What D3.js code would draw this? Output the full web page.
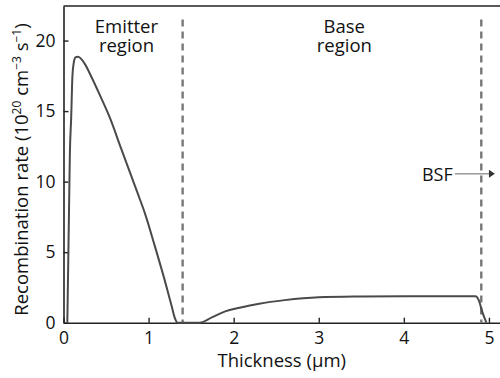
<!DOCTYPE html>
<html lang="en">
<head>
  <meta charset="UTF-8">
  <title>Recombination rate</title>
  <script src="https://d3js.org/d3.v7.min.js"></script>
  <style>
    body {
      margin: 0;
      background: #fff;
      font-family: "Open Sans", sans-serif;
    }
    text {
      fill: #111;
    }
    .tick-label {
      font-size: 17.5px;
    }
  </style>
</head>
<body>
  <svg id="chart" width="500" height="378"></svg>

  <script>
    // values
    const thickness = [0.045, 0.055, 0.065, 0.075, 0.09, 0.105, 0.12, 0.14, 0.17, 0.25, 0.33, 0.43, 0.54, 0.68,
      0.87, 0.96, 1.07, 1.19, 1.27, 1.31, 1.34, 1.45, 1.6, 1.75, 1.9, 2.07, 2.3, 2.6, 3.0, 3.5, 4.0, 4.5,
      4.84, 4.88, 4.92, 4.97];
    const rate = [0, 4, 8, 12, 14.5, 17.5, 18.4, 18.8, 18.85, 18.35, 17.4, 16.1, 14.6, 12.3,
      9.2, 7.7, 5.5, 3.0, 1.2, 0.3, 0, 0, 0, 0.4, 0.8, 1.06, 1.35, 1.6, 1.8, 1.86, 1.88, 1.88,
      1.87, 1.6, 0.8, 0];

    const xTicks = [0, 1, 2, 3, 4, 5];
    const yTicks = [0, 5, 10, 15, 20];
    const boundaries = [1.4, 4.91];
    const regionLabels = [["Emitter", "region"], ["Base", "region"]];
    const regionCenters = [0.74, 3.3];

    const margin = {left: 63.5, top: 6, right: 500, bottom: 322.7};

    const svg = d3.select("#chart");

    const x = d3.scaleLinear().domain([0, 5.13]).range([margin.left, margin.right]);
    const y = d3.scaleLinear().domain([0, 22.45]).range([margin.bottom, margin.top]);

    // axes, ticks pointing inward
    const xAxis = svg.append("g")
      .attr("transform", `translate(0,${margin.bottom})`)
      .call(d3.axisBottom(x).tickValues(xTicks).tickSizeInner(-5).tickSizeOuter(0).tickPadding(9).tickFormat(d3.format("d")));
    const yAxis = svg.append("g")
      .attr("transform", `translate(${margin.left},0)`)
      .call(d3.axisLeft(y).tickValues(yTicks).tickSizeInner(-5).tickSizeOuter(0).tickPadding(8).tickFormat(d3.format("d")));

    [xAxis, yAxis].forEach(a => {
      a.select(".domain").attr("stroke", "#222").attr("stroke-width", 1.6);
      a.selectAll(".tick line").attr("stroke", "#222").attr("stroke-width", 1.4);
      a.selectAll(".tick text")
        .attr("class", "tick-label")
        .attr("fill", "#111")
        .style("font-family", "'Open Sans', sans-serif");
    });

    // top border
    svg.append("line")
      .attr("x1", margin.left).attr("x2", margin.right)
      .attr("y1", margin.top).attr("y2", margin.top)
      .attr("stroke", "#222").attr("stroke-width", 1.6);

    // region boundaries
    svg.selectAll(".boundary")
      .data(boundaries)
      .join("line")
      .attr("class", "boundary")
      .attr("x1", d => x(d)).attr("x2", d => x(d))
      .attr("y1", y(21.5)).attr("y2", margin.bottom)
      .attr("stroke", "#777")
      .attr("stroke-width", 2.4)
      .attr("stroke-dasharray", "7,5");

    // curve
    const pts = thickness.map((t, i) => [t, rate[i]]);
    const line = d3.line()
      .x(d => x(d[0]))
      .y(d => y(d[1]))
      .curve(d3.curveMonotoneX);

    svg.append("path")
      .datum(pts)
      .attr("d", line)
      .attr("fill", "none")
      .attr("stroke", "#4a4a4a")
      .attr("stroke-width", 2);

    // region labels
    regionLabels.forEach((lines, i) => {
      const t = svg.append("text")
        .attr("text-anchor", "middle")
        .style("font-size", "18.5px");
      lines.forEach((s, j) => {
        t.append("tspan")
          .attr("x", x(regionCenters[i]))
          .attr("y", 33 + j * 18.5)
          .text(s);
      });
    });

    // BSF annotation
    const bsfY = y(10.55);
    svg.append("text")
      .attr("x", x(4.575))
      .attr("y", bsfY + 7)
      .attr("text-anchor", "end")
      .style("font-size", "18px")
      .text("BSF");
    svg.append("line")
      .attr("x1", x(4.6)).attr("x2", x(5.0))
      .attr("y1", bsfY).attr("y2", bsfY)
      .attr("stroke", "#666").attr("stroke-width", 1);
    svg.append("path")
      .attr("d", `M${x(5.0)},${bsfY - 4}L${x(5.07)},${bsfY}L${x(5.0)},${bsfY + 4}Z`)
      .attr("fill", "#333");

    // axis titles
    svg.append("text")
      .attr("x", (margin.left + margin.right) / 2)
      .attr("y", 367)
      .attr("text-anchor", "middle")
      .style("font-size", "18.5px")
      .text("Thickness (\u03bcm)");

    const yl = svg.append("text")
      .attr("transform", `translate(28,169.5) rotate(-90)`)
      .attr("text-anchor", "middle")
      .style("font-size", "18.5px");
    yl.append("tspan").text("Recombination rate (10");
    yl.append("tspan").attr("dy", -7).style("font-size", "12px").text("20");
    yl.append("tspan").attr("dy", 7).text(" cm");
    yl.append("tspan").attr("dy", -7).style("font-size", "12px").text("\u22123");
    yl.append("tspan").attr("dy", 7).text(" s");
    yl.append("tspan").attr("dy", -7).style("font-size", "12px").text("\u22121");
    yl.append("tspan").attr("dy", 7).text(")");
  </script>
</body>
</html>
